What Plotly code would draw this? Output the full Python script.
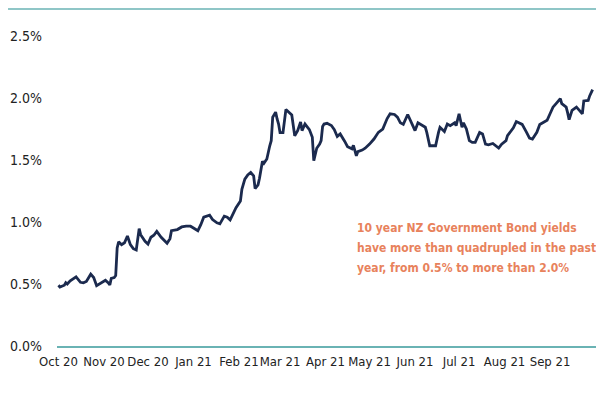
import plotly.graph_objects as go

dates = [
    "2020-10-01","2020-10-02","2020-10-05","2020-10-06","2020-10-07","2020-10-09","2020-10-13","2020-10-16",
    "2020-10-18","2020-10-20","2020-10-23","2020-10-25","2020-10-27","2020-10-30","2020-11-02","2020-11-04",
    "2020-11-05","2020-11-06","2020-11-08","2020-11-09","2020-11-10","2020-11-11","2020-11-13","2020-11-15",
    "2020-11-17","2020-11-19","2020-11-21","2020-11-23","2020-11-25","2020-11-26","2020-11-29","2020-12-01",
    "2020-12-03","2020-12-05","2020-12-07","2020-12-10","2020-12-12","2020-12-14","2020-12-16","2020-12-17",
    "2020-12-21","2020-12-24","2020-12-27","2020-12-30","2021-01-01","2021-01-04","2021-01-06","2021-01-08",
    "2021-01-12","2021-01-14","2021-01-17","2021-01-19","2021-01-22","2021-01-24","2021-01-26","2021-01-28",
    "2021-01-30","2021-02-02","2021-02-03","2021-02-05","2021-02-07","2021-02-09","2021-02-11","2021-02-12",
    "2021-02-14","2021-02-15","2021-02-17","2021-02-18","2021-02-20","2021-02-22","2021-02-23","2021-02-24",
    "2021-02-26","2021-02-27","2021-02-28","2021-03-01","2021-03-03","2021-03-05","2021-03-07","2021-03-09",
    "2021-03-11","2021-03-13","2021-03-15","2021-03-16","2021-03-18","2021-03-21","2021-03-23","2021-03-24",
    "2021-03-26","2021-03-28","2021-03-29","2021-03-30","2021-03-31","2021-04-02","2021-04-05","2021-04-07",
    "2021-04-09","2021-04-11","2021-04-14","2021-04-16","2021-04-19","2021-04-20","2021-04-22","2021-04-23",
    "2021-04-26","2021-04-28","2021-05-01","2021-05-04","2021-05-07","2021-05-10","2021-05-13","2021-05-15",
    "2021-05-18","2021-05-20","2021-05-22","2021-05-24","2021-05-27","2021-05-29","2021-06-01","2021-06-03",
    "2021-06-05","2021-06-08","2021-06-09","2021-06-11","2021-06-13","2021-06-15","2021-06-17","2021-06-18",
    "2021-06-21","2021-06-23","2021-06-25","2021-06-28","2021-06-29","2021-07-01","2021-07-03","2021-07-04",
    "2021-07-06","2021-07-08","2021-07-10","2021-07-12","2021-07-15","2021-07-17","2021-07-19","2021-07-21",
    "2021-07-24","2021-07-26","2021-07-28","2021-07-30","2021-08-02","2021-08-03","2021-08-07","2021-08-09",
    "2021-08-11","2021-08-13","2021-08-16","2021-08-18","2021-08-20","2021-08-23","2021-08-25","2021-08-27",
    "2021-08-30","2021-09-01","2021-09-03","2021-09-06","2021-09-08","2021-09-09","2021-09-12","2021-09-13",
    "2021-09-14","2021-09-16","2021-09-19","2021-09-21","2021-09-23","2021-09-24","2021-09-27","2021-09-28",
    "2021-09-30",
]

yields = [
    0.49,0.476,0.49,0.51,0.50,0.525,0.558,0.514,
    0.509,0.52,0.579,0.552,0.487,0.509,0.53,0.509,
    0.493,0.546,0.552,0.568,0.79,0.84,0.817,0.833,
    0.887,0.817,0.785,0.774,0.947,0.898,0.844,0.822,
    0.877,0.893,0.925,0.877,0.85,0.828,0.866,0.93,
    0.939,0.96,0.966,0.966,0.952,0.93,0.978,1.039,
    1.055,1.02,0.993,0.985,1.047,1.039,1.017,1.066,
    1.115,1.169,1.264,1.345,1.38,1.399,1.372,1.27,
    1.30,1.353,1.49,1.473,1.508,1.615,1.656,1.845,
    1.886,1.831,1.79,1.72,1.72,1.907,1.886,1.863,
    1.696,1.737,1.806,1.737,1.79,1.745,1.683,1.494,
    1.595,1.628,1.656,1.77,1.79,1.796,1.778,1.745,
    1.69,1.71,1.652,1.607,1.59,1.618,1.534,1.567,
    1.58,1.595,1.628,1.669,1.723,1.75,1.834,1.873,
    1.867,1.845,1.80,1.787,1.867,1.818,1.737,1.80,
    1.787,1.764,1.723,1.615,1.615,1.615,1.723,1.764,
    1.73,1.79,1.777,1.80,1.777,1.873,1.764,1.80,
    1.75,1.656,1.642,1.642,1.723,1.71,1.628,1.623,
    1.633,1.615,1.596,1.628,1.656,1.696,1.76,1.81,
    1.80,1.787,1.723,1.677,1.669,1.723,1.787,1.80,
    1.82,1.873,1.926,1.967,1.995,1.954,1.926,1.88,
    1.826,1.90,1.926,1.90,1.873,1.976,1.98,2.017,
    2.067,
]

tick_dates = ["2020-10-01","2020-11-01","2020-12-01","2021-01-01","2021-02-01","2021-03-01",
              "2021-04-01","2021-05-01","2021-06-01","2021-07-01","2021-08-01","2021-09-01"]
tick_labels = ["Oct 20","Nov 20","Dec 20","Jan 21","Feb 21","Mar 21",
               "Apr 21","May 21","Jun 21","Jul 21","Aug 21","Sep 21"]
y_ticks = [0, 0.5, 1.0, 1.5, 2.0, 2.5]
y_labels = ["0.0%","0.5%","1.0%","1.5%","2.0%","2.5%"]

annotation_lines = ["10 year NZ Government Bond yields",
                    "have more than quadrupled in the past",
                    "year, from 0.5% to more than 2.0%"]
annotation_y = [0.381, 0.315, 0.252]

FONT = "DejaVu Sans Condensed, Roboto, sans-serif"
TEAL = "#6ab3b4"

fig = go.Figure()
fig.add_trace(go.Scatter(
    x=dates, y=yields, mode="lines",
    line=dict(color="#1b2a4e", width=2.8),
    hoverinfo="skip", showlegend=False,
))

annotations = [dict(
    text=t, xref="paper", yref="paper",
    x=0.551, y=yy, xanchor="left", yanchor="middle",
    align="left", showarrow=False,
    font=dict(family=FONT, size=12, color="#e8825c", weight="bold"),
) for t, yy in zip(annotation_lines, annotation_y)]

fig.update_layout(
    width=596, height=389,
    margin=dict(l=49, r=7, t=28, b=51, autoexpand=False),
    paper_bgcolor="white", plot_bgcolor="white",
    font=dict(family=FONT, size=13, color="#222222"),
    xaxis=dict(
        type="date",
        range=["2020-09-30", "2021-10-03"],
        tickmode="array", tickvals=tick_dates, ticktext=tick_labels,
        tickangle=0, automargin=False,
        showgrid=False, zeroline=False,
        showline=True, linecolor=TEAL, linewidth=1.5,
        ticks="", ticklabelstandoff=3,
        tickfont=dict(family=FONT, size=13, color="#222222"),
    ),
    yaxis=dict(
        range=[0, 2.5], automargin=False,
        tickmode="array", tickvals=y_ticks, ticktext=y_labels,
        showgrid=False, zeroline=False, showline=False,
        ticks="", ticklabelstandoff=14,
        tickfont=dict(family=FONT, size=14, color="#222222"),
    ),
    shapes=[dict(
        type="line", xref="paper", yref="paper",
        x0=-0.0907, x1=1.002, y0=1.087, y1=1.087,
        line=dict(color=TEAL, width=1.5),
    )],
    annotations=annotations,
)

fig.write_html("out.html")
